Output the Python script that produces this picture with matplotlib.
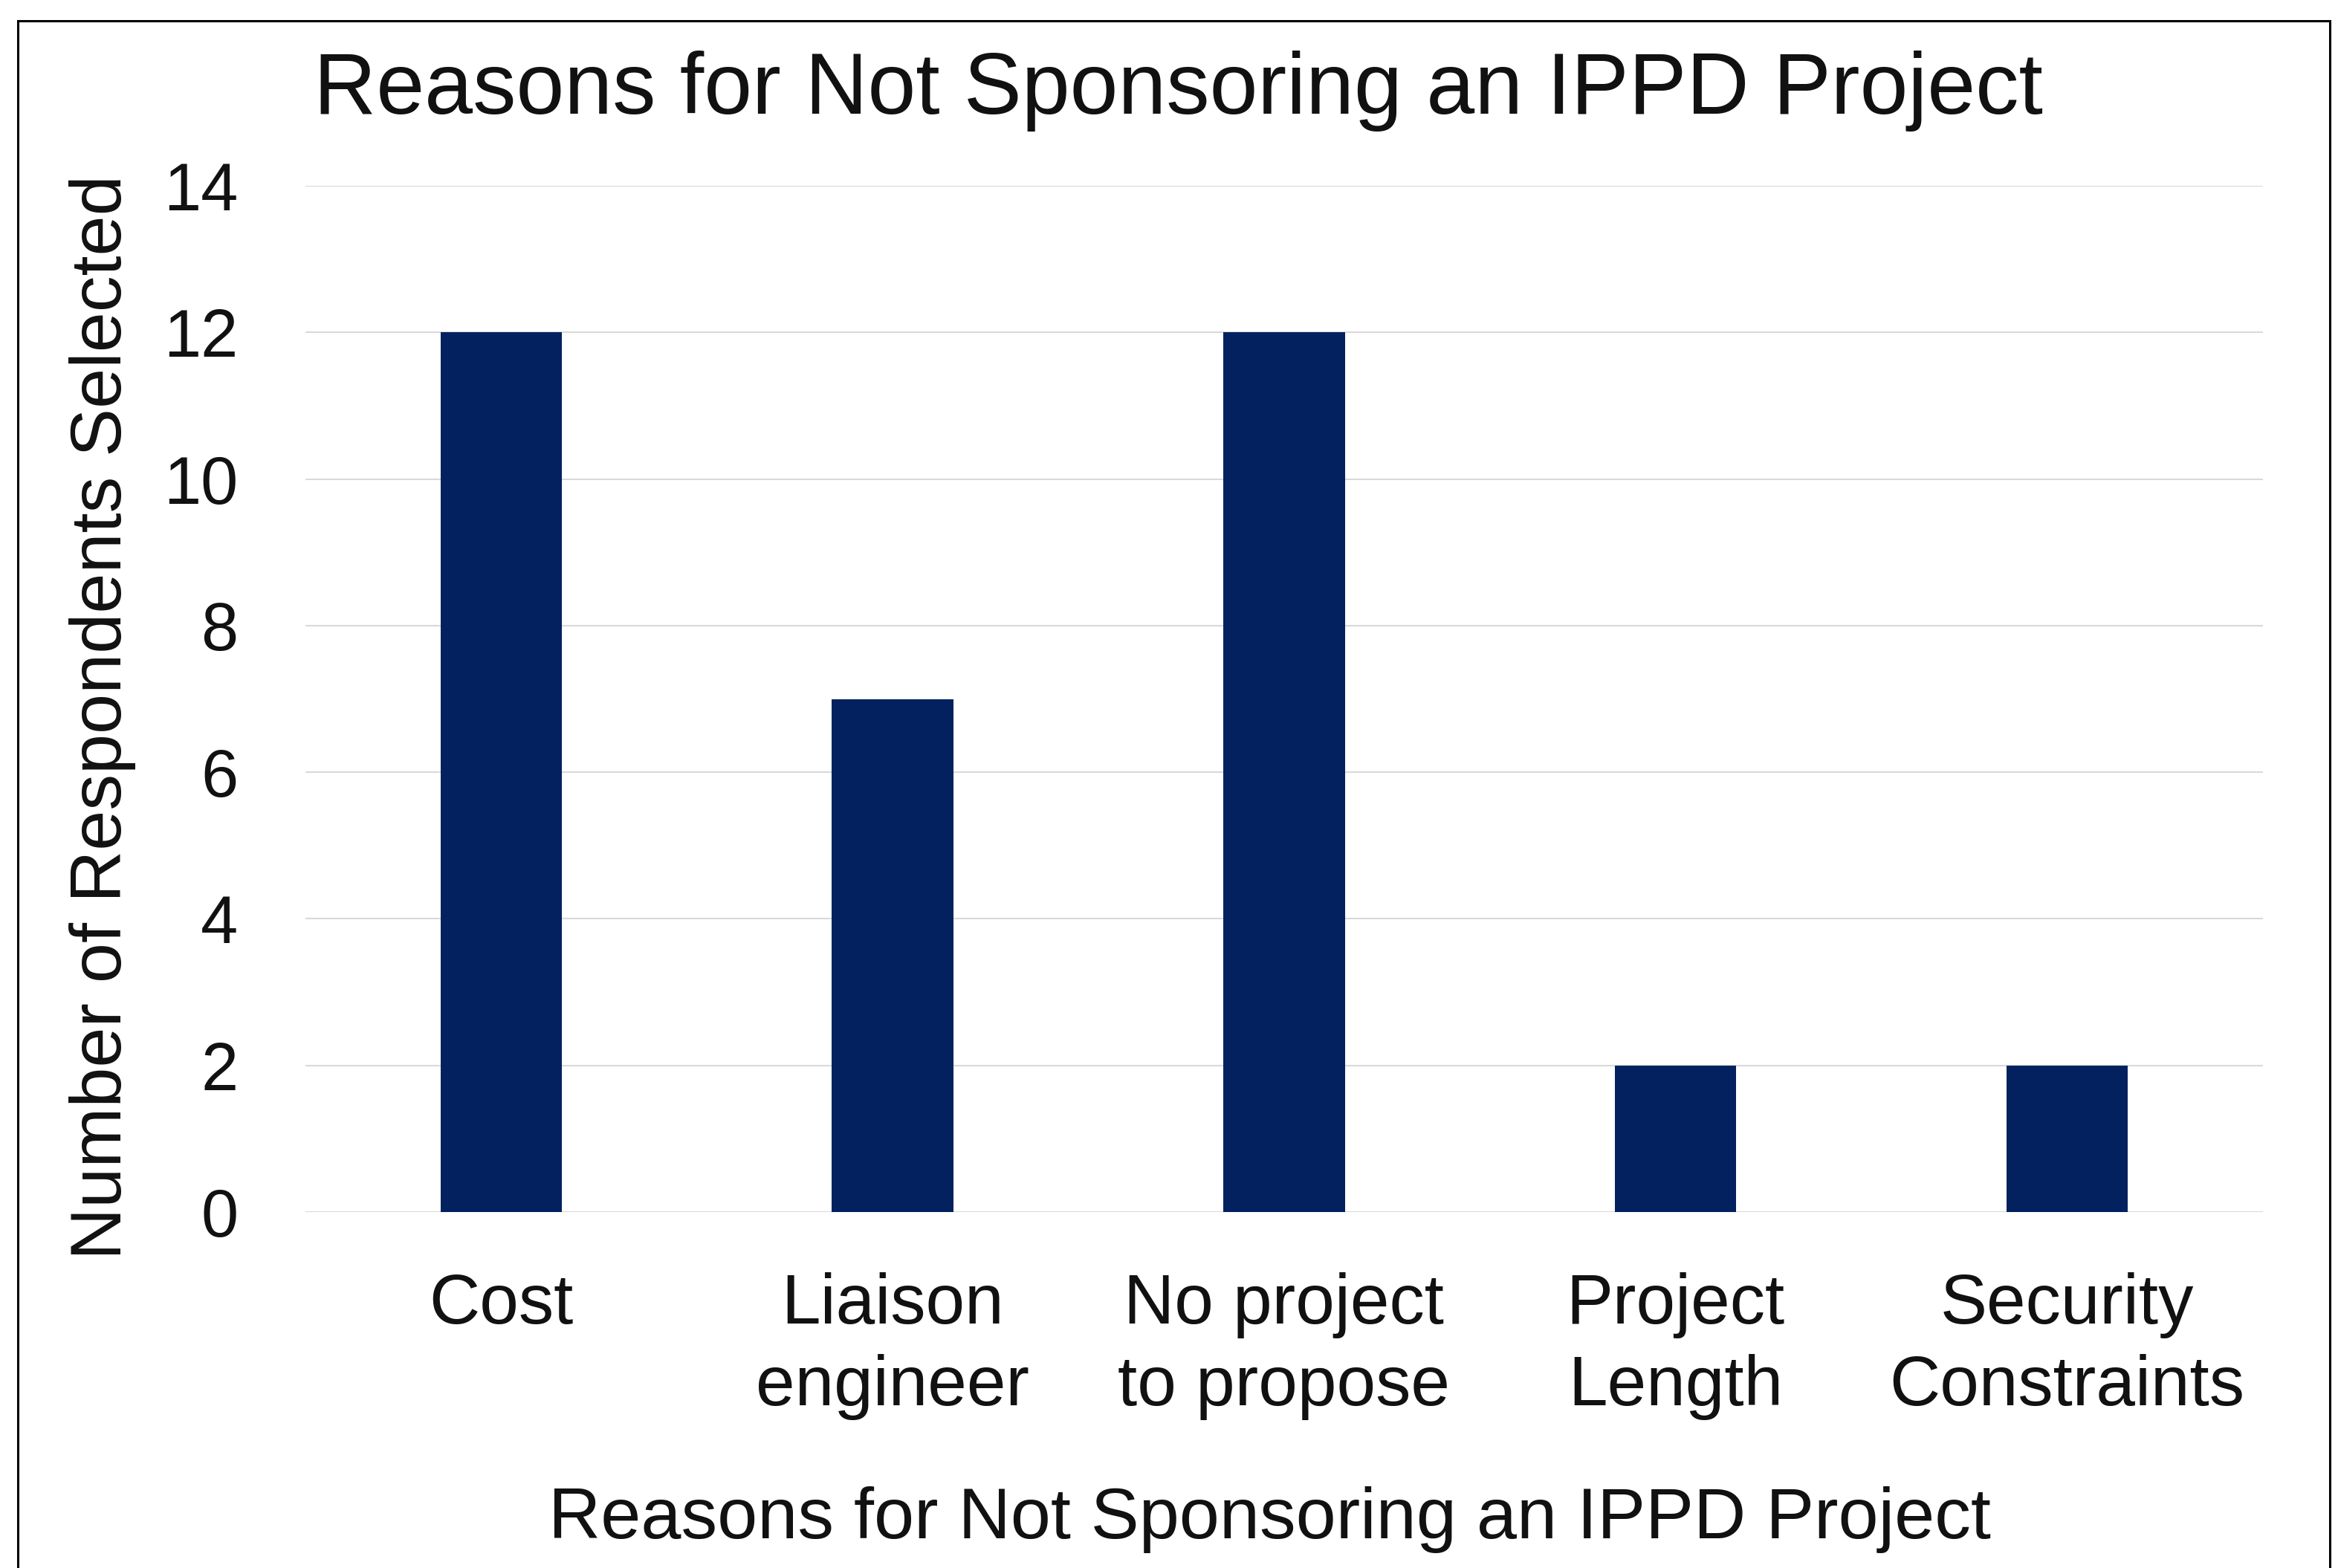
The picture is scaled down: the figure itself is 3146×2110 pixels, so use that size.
import matplotlib.pyplot as plt
from matplotlib.patches import Rectangle

categories = ["Cost", "Liaison\nengineer", "No project\nto propose", "Project\nLength", "Security\nConstraints"]
counts = [12, 7, 12, 2, 2]
y_ticks = [0, 2, 4, 6, 8, 10, 12, 14]

title = "Reasons for Not Sponsoring an IPPD Project"
x_label = "Reasons for Not Sponsoring an IPPD Project"
y_label = "Number of Respondents Selected"

plt.rcParams["font.family"] = ["Liberation Sans", "DejaVu Sans"]
text_color = "#111111"
bar_color = "#03205f"

fig = plt.figure(figsize=(31.46, 21.10), dpi=100)
ax = fig.add_axes([0.1306, 0.2270, 0.9679 - 0.1306, 0.8815 - 0.2270])

ax.bar(range(len(categories)), counts, width=0.31, color=bar_color, zorder=3)
ax.set_xlim(-0.5, len(categories) - 0.5)
ax.set_ylim(0, 14)
ax.set_yticks(y_ticks)
ax.set_xticks(range(len(categories)))
ax.set_xticklabels(categories, linespacing=1.31)

ax.grid(axis="y", color="#d9d9d9", linewidth=1.5, zorder=0)
ax.set_axisbelow(True)
for s in ax.spines.values():
    s.set_visible(False)
ax.tick_params(axis="y", length=0, pad=65, labelsize=65, labelcolor=text_color)
ax.tick_params(axis="x", length=0, pad=58, labelsize=68, labelcolor=text_color)

fig.text(0.504, 0.942, title, ha="center", va="center", fontsize=84, color=text_color)
fig.text(0.543, 0.031, x_label, ha="center", va="center", fontsize=70, color=text_color)
fig.text(0.0439, 0.5427, y_label, ha="center", va="center", rotation=90, fontsize=70, color=text_color)

# outer frame, bottom edge falls outside the picture
frame = Rectangle((24 / 3146, -0.05), (3135 - 24) / 3146, 1 - 28 / 2110 + 0.05,
                  transform=fig.transFigure, fill=False, edgecolor="black", linewidth=2.2)
fig.add_artist(frame)

fig.savefig("out.png", dpi=100)
